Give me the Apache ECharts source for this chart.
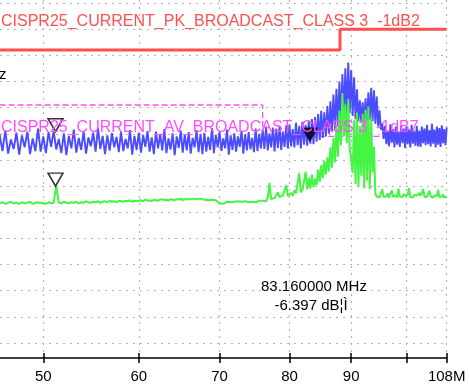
<!DOCTYPE html>
<html>
<head>
<meta charset="utf-8">
<script src="https://cdn.jsdelivr.net/npm/echarts@6/dist/echarts.min.js"></script>
<style>
html,body{margin:0;padding:0;background:#fff;}
#chart{width:470px;height:388px;}
</style>
</head>
<body>
<div id="chart"></div>
<script>
// ---- Data ----
const TICK_FREQS = [50, 60, 70, 80, 90, 100, 108];
const TICK_LABELS = ['50', '60', '70', '80', '90', '', '108M'];
const Y_GRID_VALUES = [-45, -40, -35, -30, -25, -20, -15, -10, -5, 0, 5, 10, 15, 20];

// sweep: 46.0 MHz start, 0.25 MHz step
const SWEEP_START_MHZ = 46.0;
const SWEEP_STEP_MHZ = 0.25;

// peak detector trace (dBuA), blue
const peakTrace = [
  -5.1,-8.3,-4.4,-8.8,-6.1,-7.9,-4.8,-9.0,
  -5.3,-7.6,-4.6,-8.9,-5.9,-8.3,-4.0,-8.4,
  -5.5,-8.7,-4.7,-7.5,-4.5,-8.0,-6.0,-8.7,
  -4.9,-9.1,-5.4,-7.8,-4.2,-8.6,-5.8,-8.1,
  -4.6,-8.8,-5.7,-7.4,-4.8,-8.4,-3.9,-7.9,
  -5.4,-8.9,-5.3,-8.2,-4.9,-7.6,-5.6,-8.5,
  -4.7,-8.3,-6.0,-7.8,-4.3,-9.0,-5.4,-8.1,
  -4.8,-8.6,-5.2,-7.5,-4.5,-8.4,-5.7,-8.9,
  -4.6,-7.8,-5.0,-8.2,-4.1,-8.7,-5.9,-8.0,
  -4.9,-9.1,-5.5,-7.7,-4.4,-8.6,-5.1,-8.2,
  -4.7,-8.8,-5.8,-7.6,-4.3,-8.5,-5.0,-8.9,
  -4.8,-8.4,-5.6,-8.1,-3.9,-8.7,-5.2,-7.6,
  -4.6,-8.3,-5.9,-7.8,-4.2,-9.0,-5.3,-8.1,
  -4.9,-8.4,-5.5,-7.5,-4.4,-8.8,-5.1,-8.2,
  -4.7,-8.0,-5.8,-8.5,-4.0,-8.3,-5.0,-7.8,
  -4.2,-7.9,-3.6,-8.2,-4.9,-7.6,-3.8,-8.4,
  -4.0,-7.7,-3.5,-8.1,-4.6,-7.5,-3.4,-7.8,
  -3.2,-7.4,-4.1,-7.6,-2.9,-7.2,-3.5,-7.8,
  -2.7,-7.1,-3.3,-7.3,-2.6,-6.9,-2.2,-7.0,
  -1.8,-6.5,-1.2,-6.2,-0.6,-5.8,-0.9,-5.5,
  0.3,-5.0,1.2,-4.6,2.5,-4.1,3.6,-3.5,
  5.0,-2.8,6.4,-2.0,7.5,-1.5,8.6,-1.0,
  7.2,-1.6,5.8,-2.2,3.5,-2.6,1.4,-2.9,
  1.0,-3.0,1.8,-2.7,2.9,-2.4,3.8,-2.6,
  3.3,-3.1,2.1,-3.6,-0.5,-4.2,-3.0,-6.0,
  -3.5,-7.0,-4.4,-7.4,-3.2,-6.7,-4.1,-7.6,
  -3.6,-7.1,-4.6,-7.5,-3.4,-6.8,-4.0,-7.7,
  -3.7,-7.0,-4.2,-7.6,-3.3,-6.9,-4.5,-7.3,
  -3.5,-7.4,-4.4,-7.5,-3.6,-6.8,-4.0,-7.2,
  -3.3,-7.0,-4.3,-7.4,-3.1,-6.9,-4.2,-7.6,
  -3.6,-7.1,-3.9,-7.5,-3.4,-6.8,-4.1,-7.2,
  -3.8
];

// average detector trace (dBuA), green
const avgTrace = [
  -18.3,-18.1,-18.4,-18.2,-18.0,-18.3,-18.2,-18.4,
  -18.1,-18.3,-18.2,-18.0,-18.4,-18.2,-18.1,-18.3,
  -18.2,-18.4,-18.1,-18.3,-18.2,-15.0,-18.1,-18.3,
  -18.0,-18.2,-18.3,-18.1,-18.2,-18.0,-18.3,-18.1,
  -18.2,-17.9,-18.1,-18.2,-18.0,-18.1,-17.9,-18.2,
  -18.0,-17.9,-18.1,-17.8,-18.0,-17.9,-18.1,-17.8,
  -17.9,-18.0,-17.8,-17.9,-17.7,-18.0,-17.8,-17.9,
  -17.8,-17.7,-17.9,-17.6,-17.8,-17.7,-17.9,-17.6,
  -17.7,-17.8,-17.6,-17.5,-17.7,-17.6,-17.8,-17.5,
  -17.6,-17.7,-17.5,-17.6,-17.4,-17.7,-17.5,-17.6,
  -17.5,-17.6,-17.4,-17.7,-17.5,-17.6,-17.4,-17.5,
  -17.6,-17.5,-17.7,-17.4,-17.6,-17.5,-17.7,-17.6,
  -18.3,-18.1,-18.4,-18.2,-18.0,-18.3,-18.1,-18.2,
  -18.0,-18.2,-17.9,-18.1,-18.0,-18.2,-17.9,-18.0,
  -18.1,-17.9,-18.0,-17.8,-18.1,-17.9,-17.8,-18.0,
  -17.8,-17.6,-17.9,-17.2,-14.4,-17.5,-17.7,-17.3,
  -17.4,-16.2,-17.1,-17.3,-16.8,-17.0,-14.8,-16.9,
  -16.7,-16.3,-16.9,-15.8,-16.4,-16.6,-12.5,-16.2,
  -15.8,-16.1,-12.3,-15.7,-13.4,-15.5,-12.8,-15.2,
  -13.6,-14.8,-11.8,-14.2,-11.0,-13.5,-10.2,-12.8,
  -9.5,-12.2,-7.6,-11.5,-5.8,-10.5,-3.2,-9.4,
  -0.6,-7.2,2.8,-5.5,0.6,-6.8,1.6,-8.0,
  -9.8,-12.5,-2.4,-14.6,-1.0,-15.2,-3.5,-13.0,
  -1.2,-15.4,-0.4,-14.0,0.2,-15.6,-2.0,-12.4,
  -7.5,-16.5,-17.0,-16.8,-17.2,-16.9,-15.6,-17.1,
  -16.8,-17.0,-16.4,-17.2,-16.9,-15.8,-17.1,-16.9,
  -16.7,-17.2,-15.5,-17.0,-16.8,-17.1,-16.5,-16.9,
  -17.0,-16.6,-15.4,-17.1,-16.9,-17.2,-16.7,-17.0,
  -16.8,-17.1,-16.3,-16.9,-17.2,-15.6,-17.0,-16.8,
  -17.1,-16.9,-15.9,-17.0,-16.7,-17.2,-16.8,-17.0,
  -16.9,-15.7,-17.1,-16.8,-17.0,-16.6,-17.2,-16.9,
  -17.0
];

// limit lines
const pkLimitFreq = [46.0, 88.1, 88.1, 108.0];
const pkLimitVal  = [11, 11, 15, 15];
const avLimitFreq = [46.0, 76.0, 76.0, 108.0];
const avLimitVal  = [0.5, 0.5, -5.5, -5.5];

// markers
const markerFreq = [51.18, 51.18, 83.16];
const markerVal  = [-4.6, -15.0, -6.397];
const markerFilled = [false, false, true];

const PK_LABEL = 'CISPR25_CURRENT_PK_BROADCAST_CLASS 3  -1dB2';
const AV_LABEL = 'CISPR25_CURRENT_AV_BROADCAST_CLASS 3  -1dB7';
const MARKER_FREQ_TEXT = '83.160000 MHz';
const MARKER_LEVEL_TEXT = '-6.397 dB¦Ì';

// ---- build ----
const lg = Math.log10;
const traceData = arr => arr.map((v, i) => [lg(SWEEP_START_MHZ + i * SWEEP_STEP_MHZ), v]);
const pairData = (f, v) => f.map((x, i) => [lg(x), v[i]]);

const X_MIN = 1.663072, X_MAX = lg(108);
const FONT = '"Liberation Sans", Arial, sans-serif';

const chart = echarts.init(document.getElementById('chart'), null, {renderer: 'canvas'});
const tickVals = TICK_FREQS.map(lg);

chart.setOption({
  animation: false,
  backgroundColor: '#ffffff',
  grid: {left: 0, right: 23.3, top: 0, bottom: 30, containLabel: false},
  xAxis: [{
    type: 'value', min: X_MIN, max: X_MAX, position: 'bottom',
    axisLine: {show: true, onZero: false, lineStyle: {color: '#000', width: 1.5}},
    axisTick: {show: true, length: 5, customValues: tickVals, lineStyle: {color: '#000', width: 1.5}},
    axisLabel: {show: true, customValues: tickVals, margin: 11, color: '#000',
      fontSize: 15, fontFamily: FONT,
      formatter: v => { let k = 0, d = 1e9; tickVals.forEach((t, i) => { if (Math.abs(t - v) < d) { d = Math.abs(t - v); k = i; } }); return TICK_LABELS[k]; }},
    splitLine: {show: true, lineStyle: {color: '#b4b4b4', type: [2, 5], width: 1.2}}
  }, {
    type: 'value', min: X_MIN, max: X_MAX, position: 'bottom',
    axisLine: {show: false, onZero: false},
    axisTick: {show: true, inside: true, length: 5, customValues: tickVals, lineStyle: {color: '#000', width: 1.5}},
    axisLabel: {show: false}, splitLine: {show: false}
  }],
  yAxis: {
    type: 'value', min: -47.868, max: 20.574,
    axisLine: {show: false}, axisLabel: {show: false},
    axisTick: {show: false, customValues: Y_GRID_VALUES},
    splitLine: {show: true, lineStyle: {color: '#b4b4b4', type: [2, 5], width: 1.2}}
  },
  series: [
    {type: 'line', name: 'AV limit', data: pairData(avLimitFreq, avLimitVal), symbol: 'none', z: 1,
      lineStyle: {color: '#ff4dff', width: 1.3, type: [6, 3]}},
    {type: 'line', name: 'PK limit', data: pairData(pkLimitFreq, pkLimitVal), symbol: 'none', z: 3,
      lineStyle: {color: '#ff5050', width: 3}},
    {type: 'line', name: 'PK', data: traceData(peakTrace), symbol: 'none', z: 2,
      lineStyle: {color: '#4b4bff', width: 1.9}},
    {type: 'line', name: 'AV', data: traceData(avgTrace), symbol: 'none', z: 3,
      lineStyle: {color: '#44f544', width: 2}},
    {type: 'scatter', name: 'markers', z: 5,
      data: markerFreq.map((f, i) => ({
        value: [lg(f), markerVal[i]],
        itemStyle: markerFilled[i] ? {color: '#000', borderColor: '#000', borderWidth: 1}
                                    : {color: 'rgba(0,0,0,0)', borderColor: '#000', borderWidth: 1.5}
      })),
      symbol: 'triangle', symbolRotate: 180, symbolSize: [15, 13], symbolOffset: [0, '-50%']}
  ],
  graphic: [
    {type: 'text', z: 100, style: {text: PK_LABEL, x: 1, y: 21.6, fill: '#ff5050', font: '16px ' + FONT, verticalAlign: 'middle'}},
    {type: 'text', z: 100, style: {text: AV_LABEL, x: 1, y: 127.5, fill: '#ff4dff', font: '16px ' + FONT, verticalAlign: 'middle'}},
    {type: 'text', z: 100, style: {text: 'MHz', x: 6.5, y: 75, fill: '#000', font: '15px ' + FONT, align: 'right', verticalAlign: 'middle'}},
    {type: 'text', z: 100, style: {text: MARKER_FREQ_TEXT, x: 261, y: 287.3, fill: '#000', font: '15px ' + FONT, verticalAlign: 'middle'}},
    {type: 'text', z: 100, style: {text: MARKER_LEVEL_TEXT, x: 274.5, y: 306, fill: '#000', font: '15px ' + FONT, verticalAlign: 'middle'}}
  ]
});
</script>
</body>
</html>
